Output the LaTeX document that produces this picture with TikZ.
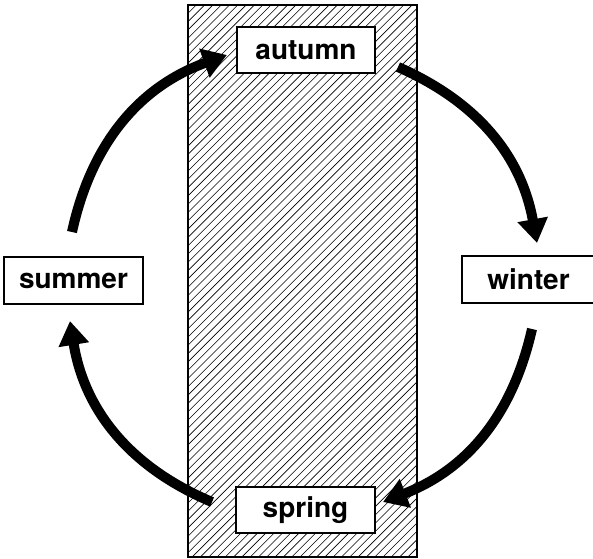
\documentclass[tikz,border=0pt]{standalone}
\usepackage{fontspec}
\setmainfont{TeX Gyre Heros}
\usetikzlibrary{arrows.meta}

\tikzset{every picture/.style={line width=0.75pt}}
\tikzset{
  season/.style={draw, fill=white, line width=1.1pt, inner sep=0pt,
    font=\bfseries\fontsize{21}{21}\selectfont},
  cyclearrow/.style={line width=7.5pt, -{Triangle[length=18pt,width=22pt]}},
}

\begin{document}
\begin{tikzpicture}[x=0.75pt,y=0.75pt,yscale=-1,xscale=1]
\path[use as bounding box] (0,0) rectangle (593,558);

%Shape: Rectangle (hatched band)
\begin{scope}
\clip (188,5) rectangle (417,557);
\foreach \i in {0,8.3,...,790} {
  \draw[line width=0.45pt] (\i-364,557) -- (\i+188,5);
}
\end{scope}
\draw[line width=1.1pt] (188,5) rectangle (417,557);

% Text Node
\node[season, minimum width=103.5pt, minimum height=34.5pt] (autumn) at (306,50) {autumn};
% Text Node
\node[season, minimum width=104.25pt, minimum height=35.25pt] (summer) at (73.5,280.5) {summer};
% Text Node
\node[season, minimum width=99.75pt, minimum height=35.25pt] (winter) at (528.5,279.5) {winter};
% Text Node
\node[season, minimum width=104.25pt, minimum height=34.5pt] (spring) at (305.5,510) {spring};

% arrow ends
\coordinate (sumout) at (72,232);
\coordinate (autin) at (227,55);
\coordinate (autout) at (398,67);
\coordinate (winin) at (537,243);
\coordinate (winout) at (532,329);
\coordinate (sprin) at (383,502);
\coordinate (sprout) at (212,502);
\coordinate (sumin) at (70,321);

\draw[cyclearrow] (sumout) to[bend right=29] (autin);
\draw[cyclearrow] (autout) to[bend right=28] (winin);
\draw[cyclearrow] (winout) to[bend right=28] (sprin);
\draw[cyclearrow] (sprout) to[bend right=29] (sumin);

\end{tikzpicture}
\end{document}
